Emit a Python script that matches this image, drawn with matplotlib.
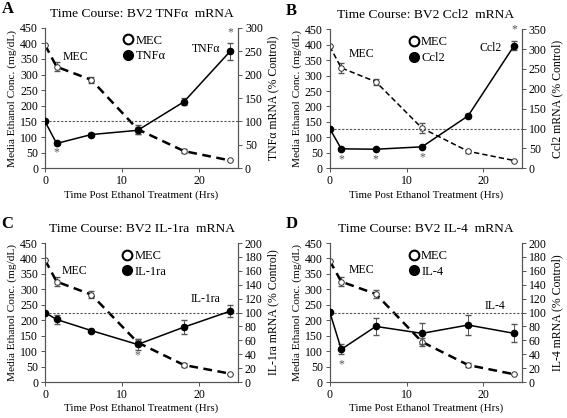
import numpy as np
import matplotlib.pyplot as plt
from matplotlib.lines import Line2D

plt.rcParams['font.family'] = ['Liberation Serif', 'DejaVu Serif']

# time points (hrs)
hours = [0, 1.5, 6, 12, 18, 24]

# media ethanol concentration (mg/dL), left axis
mec_a = [395, 325, 283, 125, 55, 25]
mec_a_err = [0, 15, 10, 15, 6, 0]
mec_b = [395, 325, 280, 130, 55, 25]
mec_b_err = [0, 15, 10, 15, 5, 0]
mec_c = [395, 325, 283, 128, 55, 27]
mec_c_err = [0, 15, 12, 12, 5, 0]
mec_d = [393, 325, 285, 130, 55, 25]
mec_d_err = [0, 15, 12, 12, 5, 0]

# mRNA (% control), right axis
tnf = [100, 53, 72, 81, 142, 250]
tnf_err = [0, 3, 3, 7, 8, 18]
ccl2 = [100, 49, 48, 54, 132, 309]
ccl2_err = [0, 2, 2, 3, 5, 12]
il1ra = [100, 90, 74, 54, 79, 102]
il1ra_err = [0, 7, 2, 8, 10, 9]
il4 = [101, 47, 80, 70, 82, 70]
il4_err = [0, 7, 12, 15, 15, 13]

panels = [
    dict(letter='A', name='TNFα', mec=mec_a, mec_err=mec_a_err, y=tnf, yerr=tnf_err,
         rmax=300, rstep=50, stars=[(1.5, 35), (24, 291)],
         mec_lbl=(2.3, 356), name_lbl=(19.0, 382), thick=True,
         rect=[0.0794, 0.5974, 0.3404, 0.3363]),
    dict(letter='B', name='Ccl2', mec=mec_b, mec_err=mec_b_err, y=ccl2, yerr=ccl2_err,
         rmax=350, rstep=50, stars=[(1.5, 23), (6, 23), (12, 27), (24, 349)],
         mec_lbl=(2.4, 370), name_lbl=(19.5, 389), thick=False,
         rect=[0.5815, 0.5974, 0.3390, 0.3326]),
    dict(letter='C', name='IL-1ra', mec=mec_c, mec_err=mec_c_err, y=il1ra, yerr=il1ra_err,
         rmax=200, rstep=20, stars=[(12, 38)],
         mec_lbl=(2.2, 359), name_lbl=(18.9, 270), thick=True,
         rect=[0.0794, 0.0861, 0.3404, 0.3325]),
    dict(letter='D', name='IL-4', mec=mec_d, mec_err=mec_d_err, y=il4, yerr=il4_err,
         rmax=200, rstep=20, stars=[(1.5, 26)],
         mec_lbl=(2.4, 363), name_lbl=(20.2, 246), thick=True,
         rect=[0.5815, 0.0861, 0.3390, 0.3325]),
]

fig = plt.figure(figsize=(5.67, 4.18), dpi=100)
fs = 8.5
gray = '#555555'

for p in panels:
    ax = fig.add_axes(p['rect'])
    ax2 = ax.twinx()

    # MEC dashed line with open circles
    if p['thick']:
        ls = dict(linewidth=1.8, dashes=(3.5, 2.2))
    else:
        ls = dict(linewidth=1.1, dashes=(3.5, 2.0))
    ax.errorbar(hours, p['mec'], yerr=p['mec_err'], fmt='none', ecolor=gray,
                elinewidth=0.7, capsize=2, zorder=2)
    ax.plot(hours, p['mec'], color='black', **ls, zorder=3)
    ax.plot(hours, p['mec'], 'o', ms=4, mfc='white', mec='#333333', mew=0.7, zorder=4)

    ax.set_xlim(0, 25)
    ax.set_ylim(0, 450)
    ax.set_xticks([0, 10, 20])
    ax.set_yticks(np.arange(0, 451, 50))
    ax.set_xlabel('Time Post Ethanol Treatment (Hrs)', fontsize=7.8, labelpad=2)
    ax.set_ylabel('Media Ethanol Conc. (mg/dL)', fontsize=8.2, labelpad=2)
    ax.tick_params(labelsize=fs, length=3, width=0.7, color=gray, pad=2)
    ax.text(p['mec_lbl'][0], p['mec_lbl'][1], 'MEC', fontsize=fs, va='center')

    # mRNA solid line with filled circles on right axis
    ax2.errorbar(hours, p['y'], yerr=p['yerr'], fmt='none', ecolor=gray,
                 elinewidth=0.7, capsize=2, zorder=2)
    ax2.plot(hours, p['y'], '-o', color='black', lw=1.1, ms=4.5, zorder=3)
    ax2.axhline(100, color=gray, lw=0.8, ls=(0, (2, 1.5)), zorder=1)
    ax2.set_ylim(0, p['rmax'])
    ax2.set_yticks(np.arange(0, p['rmax'] + 1, p['rstep']))
    ax2.set_ylabel(p['name'] + ' mRNA (% Control)', fontsize=fs, labelpad=3)
    ax2.tick_params(labelsize=fs, length=3, width=0.7, color=gray, pad=2)
    for sx, sy in p['stars']:
        ax2.text(sx, sy, '*', fontsize=fs, color=gray, ha='center', va='center')
    lx, ly = p['name_lbl']
    ax2.text(lx, ly * p['rmax'] / 450, p['name'], fontsize=fs, va='center')

    for a in (ax, ax2):
        a.spines['top'].set_visible(False)
        for s in ('left', 'right', 'bottom'):
            a.spines[s].set_color(gray)
            a.spines[s].set_linewidth(0.8)

    handles = [Line2D([], [], ls='none', marker='o', ms=7, mfc='white', mec='black', mew=1.5),
               Line2D([], [], ls='none', marker='o', ms=7, mfc='black', mec='black')]
    ax.legend(handles, ['MEC', p['name']], loc='upper center', bbox_to_anchor=(0.51, 1.03),
              frameon=False, fontsize=fs + 0.5, handletextpad=0.1, labelspacing=0.3,
              handlelength=1.0)

    ax.set_title('Time Course: BV2 ' + p['name'] + '  mRNA', fontsize=fs + 1.2, pad=8)
    x0, y0 = p['rect'][0], p['rect'][1] + p['rect'][3]
    fig.text(x0 - 0.077, y0 + 0.035, p['letter'], fontsize=12, fontweight='bold')

fig.savefig('out.png', dpi=100)
